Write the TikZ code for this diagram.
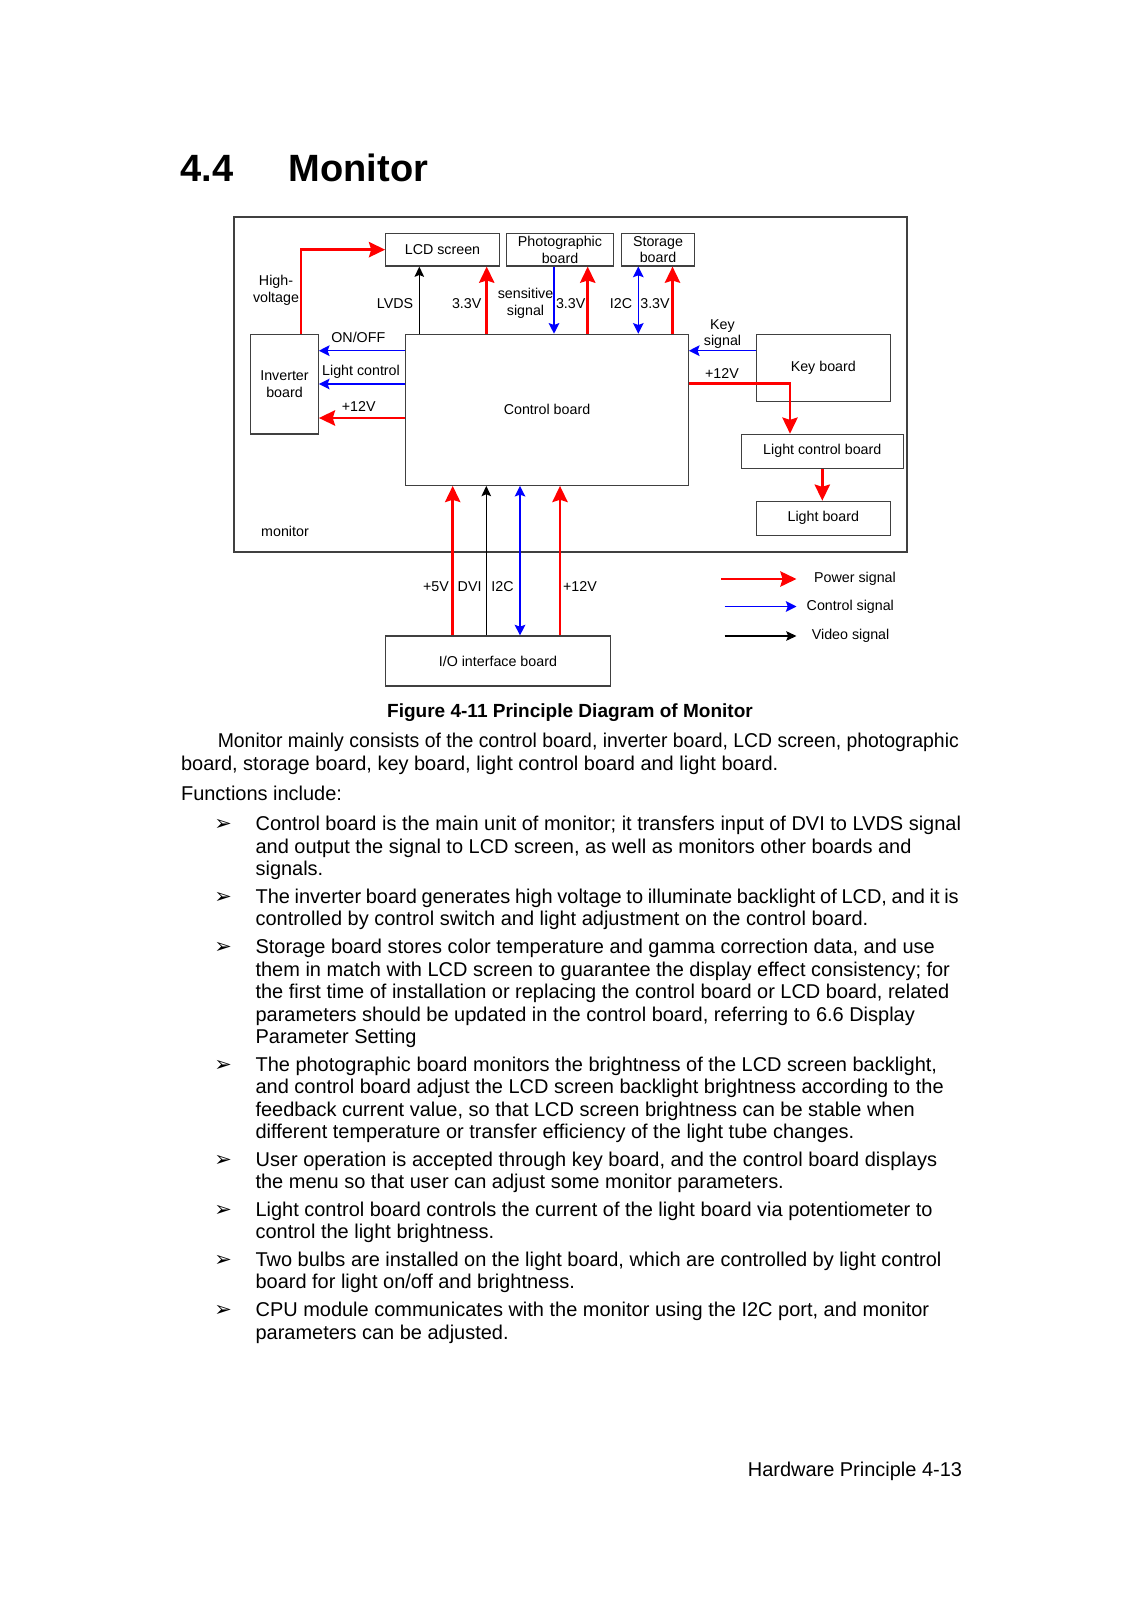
\documentclass[tikz,border=0pt]{standalone}
\usepackage{fontspec}
\setmainfont{Liberation Sans}
\newfontfamily\dingfont{DejaVu Sans}
\usetikzlibrary{positioning,arrows.meta,calc}
\definecolor{pwrred}{RGB}{255,0,0}
\definecolor{ctlblue}{RGB}{0,0,255}
\definecolor{boxgray}{RGB}{64,64,64}

\begin{document}
\begin{tikzpicture}[x=0.52587pt, y=-0.52587pt,
  board/.style={rectangle, draw=boxgray, line width=0.6pt, inner sep=0pt,
    align=center, font=\fontsize{7.5}{8.8}\selectfont},
  lbl/.style={inner sep=0pt, align=center, font=\fontsize{7.5}{8.8}\selectfont},
  pwr/.style={-{Stealth[length=8.5pt,width=8pt,inset=1.2pt]}, line width=1.5pt, color=pwrred},
  ctl/.style={-{Stealth[length=5.6pt,width=5.6pt,inset=1pt]}, line width=0.8pt, color=ctlblue},
  ctlboth/.style={arrows={Stealth[length=5.6pt,width=5.6pt,inset=1pt]-Stealth[length=5.6pt,width=5.6pt,inset=1pt]},
    line width=0.8pt, color=ctlblue},
  vid/.style={-{Stealth[length=5.4pt,width=5pt,inset=1pt]}, line width=0.8pt, color=black},
  bodytxt/.style={anchor=base west, inner sep=0pt, font=\fontsize{10.5}{12.6}\selectfont},
  bullet/.style={anchor=base west, inner sep=0pt, font=\dingfont\fontsize{11}{12}\selectfont},
]
\useasboundingbox (0,0) rectangle (1132,1601);
\fill[white] (0,0) rectangle (1132,1601);

% heading
\node[anchor=base west, inner sep=0pt, font=\fontsize{20}{24}\selectfont\bfseries] (secno) at (180,181.7) {4.4};
\node[anchor=base west, inner sep=0pt, font=\fontsize{20}{24}\selectfont\bfseries] (sectitle) at (288.3,181.7) {Monitor};

% monitor frame
\draw[boxgray, line width=0.6pt] (234,217) rectangle (907,552);
\node[lbl] (monlbl) at (285,531.7) {monitor};

% boards
\node[board, minimum width=59.74pt, minimum height=17.2pt] (lcd) at (442.5,249.65) {LCD screen};
\node[board, minimum width=56.06pt, minimum height=17.2pt] (photo) at (560,249.65) {Photographic\\board};
\node[board, minimum width=38.18pt, minimum height=17.2pt] (store) at (658,249.65) {Storage\\board};
\node[board, minimum width=35.55pt, minimum height=52.43pt] (inv) at (284.5,384.15) {Inverter\\board};
\node[board, minimum width=148.6pt, minimum height=79.41pt] (ctrl) at (547,409.8) {Control board};
\node[board, minimum width=70.47pt, minimum height=35.23pt] (key) at (823.3,367.8) {Key board};
\node[board, minimum width=85.19pt, minimum height=17.88pt] (lcb) at (822.3,451.3) {Light control board};
\node[board, minimum width=70.47pt, minimum height=17.88pt] (lb) at (823.3,518.3) {Light board};
\node[board, minimum width=118.3pt, minimum height=26.29pt] (io) at (497.9,661) {I/O interface board};

% line positions
\coordinate (xhv) at (301,0);
\coordinate (xlvds) at (419.3,0);
\coordinate (xlcdp) at (486.7,0);
\coordinate (xsens) at (554,0);
\coordinate (xphp) at (587.7,0);
\coordinate (xsti) at (638.3,0);
\coordinate (xstp) at (672.5,0);
\coordinate (onoff) at (0,350.7);
\coordinate (lightc) at (0,384);
\coordinate (p12l) at (0,418);
\coordinate (keys) at (0,350.7);
\coordinate (kturn) at (790,383.7);
\coordinate (x5v) at (452.7,0);
\coordinate (xdvi) at (486.3,0);
\coordinate (xioi) at (520,0);
\coordinate (x12v) at (560,0);

% connectors, top
\draw[pwr] (inv.north -| xhv) |- (lcd.west);
\draw[vid] (ctrl.north -| xlvds) -- (lcd.south -| xlvds);
\draw[pwr] (ctrl.north -| xlcdp) -- (lcd.south -| xlcdp);
\draw[ctl] (photo.south -| xsens) -- (ctrl.north -| xsens);
\draw[pwr] (ctrl.north -| xphp) -- (photo.south -| xphp);
\draw[ctlboth] (store.south -| xsti) -- (ctrl.north -| xsti);
\draw[pwr] (ctrl.north -| xstp) -- (store.south -| xstp);

% connectors, left
\draw[ctl] (ctrl.west |- onoff) -- (inv.east |- onoff);
\draw[ctl] (ctrl.west |- lightc) -- (inv.east |- lightc);
\draw[pwr] (ctrl.west |- p12l) -- (inv.east |- p12l);

% connectors, right
\draw[ctl] (key.west |- keys) -- (ctrl.east |- keys);
\draw[pwr] (ctrl.east |- kturn) -| (lcb.north -| kturn);
\draw[pwr] (lcb.south) -- (lcb.south |- lb.north);

% connectors, bottom
\draw[pwr] (io.north -| x5v) -- (ctrl.south -| x5v);
\draw[vid] (io.north -| xdvi) -- (ctrl.south -| xdvi);
\draw[ctlboth] (ctrl.south -| xioi) -- (io.north -| xioi);
\draw[pwr] (io.north -| x12v) -- (ctrl.south -| x12v);

% signal labels
\node[lbl] (hvlbl) at (276,290.5) {High-\\voltage};
\node[lbl] (lvdslbl) at (395,303.3) {LVDS};
\node[lbl] (v33a) at (466.7,303.3) {3.3V};
\node[lbl] (senslbl) at (525.5,303.5) {sensitive\\signal};
\node[lbl] (v33b) at (570.7,303.3) {3.3V};
\node[lbl] (i2ca) at (621,303.3) {I2C};
\node[lbl] (v33c) at (655,303.3) {3.3V};
\node[lbl] (onofflbl) at (358.3,337) {ON/OFF};
\node[lbl] (lclbl) at (361,371.7) {Light control};
\node[lbl] (v12a) at (358.7,406.2) {+12V};
\node[lbl] (keylbl) at (722.5,334) {Key\\signal};
\node[lbl] (v12b) at (722,373.8) {+12V};
\node[lbl] (v5lbl) at (436,587) {+5V};
\node[lbl] (dvilbl) at (469.6,587) {DVI};
\node[lbl] (i2cb) at (502.5,587) {I2C};
\node[lbl] (v12c) at (580,587) {+12V};

% legend
\coordinate (lpow0) at (721,579);
\coordinate (lpow1) at (796.5,579);
\coordinate (lctl0) at (724.6,606.5);
\coordinate (lctl1) at (796.5,606.5);
\coordinate (lvid0) at (724.6,636);
\coordinate (lvid1) at (796.5,636);
\draw[pwr] (lpow0) -- (lpow1);
\draw[ctl] (lctl0) -- (lctl1);
\draw[vid] (lvid0) -- (lvid1);
\node[lbl] (lpow) at (855,579) {Power signal};
\node[lbl] (lctl) at (850.3,606.5) {Control signal};
\node[lbl] (lvid) at (850.6,636) {Video signal};

% caption
\node[anchor=base, inner sep=0pt, font=\fontsize{10}{12}\selectfont\bfseries] (caption) at (570,717.5)
  {Figure 4-11 Principle Diagram of Monitor};

% body text
\node[bodytxt] (p1) at (217.4,747) {\scalebox{0.972}[1]{Monitor mainly consists of the control board, inverter board, LCD screen, photographic}};
\node[bodytxt] (p2) at (180.7,770) {board, storage board, key board, light control board and light board.};
\node[bodytxt] (p3) at (180.7,800) {Functions include:};

\foreach \yb [count=\i] in {830.8,903.4,953.5,1071.1,1166.2,1216.3,1266.4,1316.5}
  \node[bullet] (bul\i) at (214,\yb) {➢};

\node[bodytxt] (a1) at (255.2,830.8) {Control board is the main unit of monitor; it transfers input of DVI to LVDS signal};
\node[bodytxt] (a2) at (255.2,853.3) {and output the signal to LCD screen, as well as monitors other boards and};
\node[bodytxt] (a3) at (255.2,875.8) {signals.};
\node[bodytxt] (b1) at (255.2,903.4) {\spaceskip=2.45pt plus 0.2pt The inverter board generates high voltage to illuminate backlight of LCD, and it is};
\node[bodytxt] (b2) at (255.2,925.9) {controlled by control switch and light adjustment on the control board.};
\node[bodytxt] (c1) at (255.2,953.5) {Storage board stores color temperature and gamma correction data, and use};
\node[bodytxt] (c2) at (255.2,976) {them in match with LCD screen to guarantee the display effect consistency; for};
\node[bodytxt] (c3) at (255.2,998.5) {the first time of installation or replacing the control board or LCD board, related};
\node[bodytxt] (c4) at (255.2,1021) {parameters should be updated in the control board, referring to 6.6 Display};
\node[bodytxt] (c5) at (255.2,1043.5) {Parameter Setting};
\node[bodytxt] (d1) at (255.2,1071.1) {The photographic board monitors the brightness of the LCD screen backlight,};
\node[bodytxt] (d2) at (255.2,1093.6) {and control board adjust the LCD screen backlight brightness according to the};
\node[bodytxt] (d3) at (255.2,1116.1) {feedback current value, so that LCD screen brightness can be stable when};
\node[bodytxt] (d4) at (255.2,1138.6) {different temperature or transfer efficiency of the light tube changes.};
\node[bodytxt] (e1) at (255.2,1166.2) {User operation is accepted through key board, and the control board displays};
\node[bodytxt] (e2) at (255.2,1188.7) {the menu so that user can adjust some monitor parameters.};
\node[bodytxt] (f1) at (255.2,1216.3) {Light control board controls the current of the light board via potentiometer to};
\node[bodytxt] (f2) at (255.2,1238.8) {control the light brightness.};
\node[bodytxt] (g1) at (255.2,1266.4) {Two bulbs are installed on the light board, which are controlled by light control};
\node[bodytxt] (g2) at (255.2,1288.9) {board for light on/off and brightness.};
\node[bodytxt] (h1) at (255.2,1316.5) {CPU module communicates with the monitor using the I2C port, and monitor};
\node[bodytxt] (h2) at (255.2,1339) {parameters can be adjusted.};

% footer
\node[anchor=base east, inner sep=0pt, font=\fontsize{10.5}{12.6}\selectfont] (footer) at (962.4,1476.7)
  {Hardware Principle 4-13};
\end{tikzpicture}
\end{document}
